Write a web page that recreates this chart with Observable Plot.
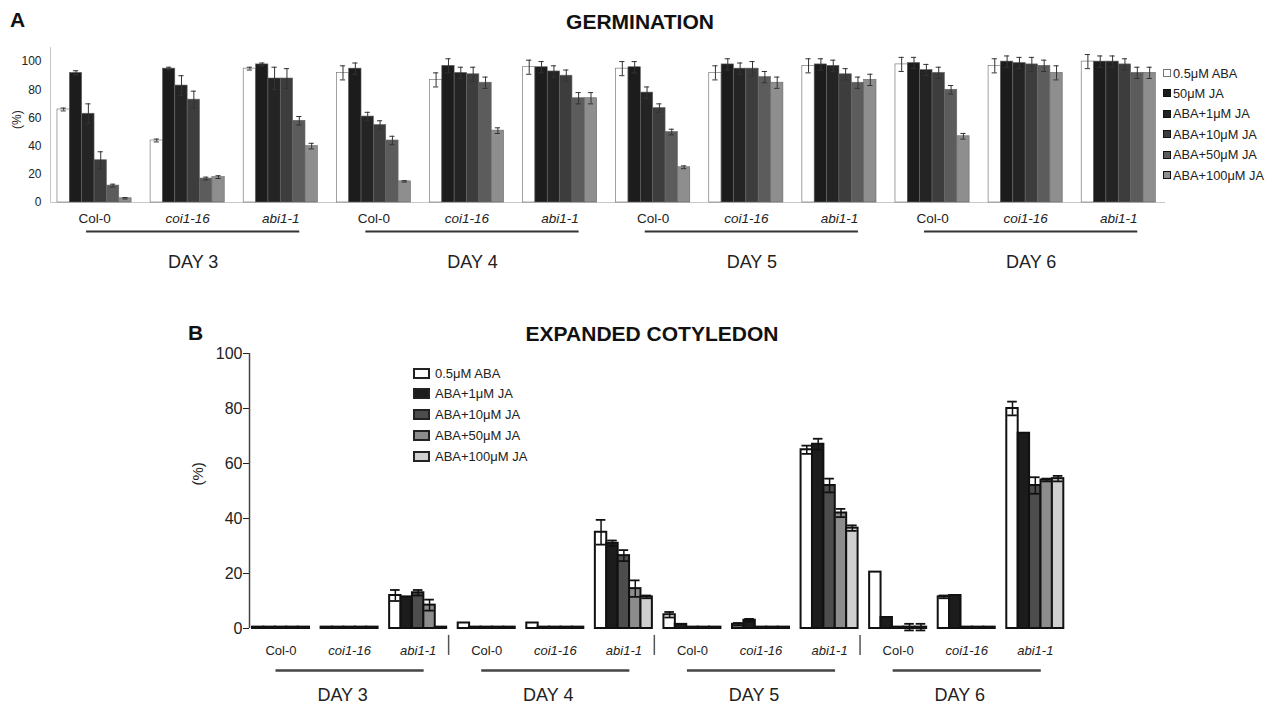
<!DOCTYPE html>
<html>
<head>
<meta charset="utf-8">
<script src="https://cdn.jsdelivr.net/npm/d3@7"></script>
<script src="https://cdn.jsdelivr.net/npm/@observablehq/plot@0.6"></script>
<style>
  body { margin: 0; background: #fff; }
  #wrap { position: relative; width: 1273px; height: 705px; font-family: Arial, "Liberation Sans", Helvetica, sans-serif; color: #222; overflow: hidden; }
  .abs { position: absolute; white-space: nowrap; line-height: 1; }
  .letter { font-weight: bold; font-size: 21px; color: #111; }
  .title { font-weight: bold; font-size: 21px; color: #111; transform: translateX(-50%); }
  .legrow { position: absolute; display: flex; align-items: center; white-space: nowrap; }
</style>
</head>
<body>
<div id="wrap">
  <div id="panelA" class="abs" style="left:0;top:0"></div>
  <div id="panelB" class="abs" style="left:0;top:300px"></div>
  <div class="abs letter" style="left:10px;top:9px">A</div>
  <div class="abs title" style="left:640px;top:10.5px">GERMINATION</div>
  <div class="abs letter" style="left:188px;top:322px">B</div>
  <div class="abs title" style="left:652px;top:323px">EXPANDED COTYLEDON</div>
  <div id="legA"></div>
  <div id="legB"></div>
</div>
<script>
const FONT = 'Arial, "Liberation Sans", Helvetica, sans-serif';

// ---------- shared categories ----------
const days = ["DAY 3", "DAY 4", "DAY 5", "DAY 6"];
const genotypes = ["Col-0", "coi1-16", "abi1-1"];

// ---------- Panel A: GERMINATION (%) ----------
const seriesA = ["0.5\u03BCM ABA", "50\u03BCM JA", "ABA+1\u03BCM JA", "ABA+10\u03BCM JA", "ABA+50\u03BCM JA", "ABA+100\u03BCM JA"];
const colorsA = ["#ffffff", "#1c1c1c", "#242424", "#3d3d3d", "#5c5c5c", "#8e8e8e"];
const yTicksA = [0, 20, 40, 60, 80, 100];
// rows: Col-0, coi1-16, abi1-1 ; columns follow seriesA
const germD3 = [[66, 92, 63, 30, 12, 3], [44, 95, 83, 73, 17, 18], [95, 98, 88, 88, 58, 40]];
const germD4 = [[92, 95, 61, 55, 44, 15], [87, 97, 92, 91, 85, 51], [96, 96, 93, 90, 74, 74]];
const germD5 = [[95, 96, 78, 67, 50, 25], [92, 98, 95, 95, 89, 85], [97, 98, 97, 91, 85, 87]];
const germD6 = [[98, 99, 94, 92, 80, 47], [97, 100, 99, 98, 97, 92], [100, 100, 100, 98, 92, 92]];
const germErrD3 = [[1, 1.5, 7, 6, 1, 0.5], [1, 1, 7, 6, 1, 1], [1, 1, 8, 7, 3, 2]];
const germErrD4 = [[5, 4, 3, 3, 3, 0.5], [5, 5, 4, 5, 4, 2], [5, 4, 4, 4, 4, 4]];
const germErrD5 = [[5, 4, 4, 3, 2, 1], [5, 4, 4, 5, 4, 4], [5, 4, 4, 4, 4, 4]];
const germErrD6 = [[5, 4, 4, 4, 3, 2], [5, 4, 4, 5, 4, 5], [5, 4, 4, 4, 4, 4]];

// ---------- Panel B: EXPANDED COTYLEDON (%) ----------
const seriesB = ["0.5\u03BCM ABA", "ABA+1\u03BCM JA", "ABA+10\u03BCM JA", "ABA+50\u03BCM JA", "ABA+100\u03BCM JA"];
const colorsB = ["#ffffff", "#1c1c1c", "#4d4d4d", "#8c8c8c", "#cfcfcf"];
const yTicksB = [0, 20, 40, 60, 80, 100];
const cotD3 = [[0.5, 0.5, 0.5, 0.5, 0.5], [0.5, 0.5, 0.5, 0.5, 0.5], [12, 11.5, 13, 8.5, 0.5]];
const cotD4 = [[2, 0.5, 0.5, 0.5, 0.5], [2, 0.5, 0.5, 0.5, 0.5], [35, 31, 26.5, 14.5, 11.5]];
const cotD5 = [[5, 1.5, 0.5, 0.5, 0.5], [1.5, 3, 0.5, 0.5, 0.5], [65, 67, 52, 42, 36.5]];
const cotD6 = [[20.5, 4, 0.5, 0.5, 0.5], [11.5, 12, 0.5, 0.5, 0.5], [80, 71, 52, 54, 54.5]];
const cotErrD3 = [[0, 0, 0, 0, 0], [0, 0, 0, 0, 0], [2, 0, 1, 2, 0]];
const cotErrD4 = [[0, 0, 0, 0, 0], [0, 0, 0, 0, 0], [4.5, 1, 2, 3, 0.5]];
const cotErrD5 = [[1, 0, 0, 0, 0], [0.5, 0.5, 0, 0, 0], [1.5, 2, 2.5, 1.5, 1]];
const cotErrD6 = [[0, 0, 0, 1.2, 1.2], [0.5, 0, 0, 0, 0], [2.5, 0, 3, 0.5, 1]];

// ---------- build tables ----------
function buildRows(meansByDay, errsByDay, series, bw) {
  const rows = [];
  meansByDay.forEach((dayMeans, d) => {
    dayMeans.forEach((vals, gi) => {
      const g = d * 3 + gi;
      vals.forEach((v, i) => {
        rows.push({g, i, s: series[i], v, e: errsByDay[d][gi][i],
          x1: g + i * bw, x2: g + (i + 1) * bw, xc: g + (i + 0.5) * bw});
      });
    });
  });
  return rows;
}
function buildGroups(nSeries, bw) {
  const out = [];
  days.forEach((day, d) => genotypes.forEach((name, gi) => {
    const g = d * 3 + gi;
    out.push({d, gi, name, xc: g + nSeries * bw / 2});
  }));
  return out;
}

// Panel A geometry (group index units)
const bwA = 0.1327, capA = 0.028;
const rowsA = buildRows([germD3, germD4, germD5, germD6], [germErrD3, germErrD4, germErrD5, germErrD6], seriesA, bwA);
const groupsA = buildGroups(6, bwA);
const dayRowsA = days.map((day, d) => {
  const c0 = groupsA[d * 3].xc, c2 = groupsA[d * 3 + 2].xc;
  const x1 = c0 - 8 / 93.1, x2 = c2 + 19 / 93.1;
  return {day, x1, x2, xc: (x1 + x2) / 2};
});

const plotA = Plot.plot({
  width: 1273, height: 280,
  marginLeft: 50, marginRight: 108, marginTop: 47, marginBottom: 78,
  style: {fontFamily: FONT, fontSize: "12px", color: "#222", background: "transparent", overflow: "visible"},
  x: {domain: [-0.075, 11.9], axis: null},
  y: {domain: [0, 110], ticks: yTicksA, tickSize: 0, tickPadding: 9, label: null},
  color: {domain: seriesA, range: colorsA},
  marks: [
    Plot.ruleX([-0.075], {y1: 0, y2: 110, stroke: "#c8c8c8"}),
    Plot.ruleY([0], {stroke: "#c8c8c8"}),
    Plot.rectY(rowsA, {x1: "x1", x2: "x2", y1: 0, y2: "v", fill: "s", stroke: "#666", strokeWidth: 0.6}),
    Plot.ruleX(rowsA, {x: "xc", y1: d => d.v - d.e, y2: d => d.v + d.e, stroke: "#333", strokeWidth: 1}),
    Plot.ruleY(rowsA, {y: d => d.v + d.e, x1: d => d.xc - capA, x2: d => d.xc + capA, stroke: "#333", strokeWidth: 1}),
    Plot.ruleY(rowsA, {y: d => d.v - d.e, x1: d => d.xc - capA, x2: d => d.xc + capA, stroke: "#333", strokeWidth: 1}),
    Plot.text(groupsA.filter(d => d.gi === 0), {x: "xc", y: 0, dy: 16, text: "name", fontSize: 13.5, fill: "#222"}),
    Plot.text(groupsA.filter(d => d.gi > 0), {x: "xc", y: 0, dy: 16, text: "name", fontSize: 13.5, fontStyle: "italic", fill: "#222"}),
    Plot.ruleY(dayRowsA, {y: 0, x1: "x1", x2: "x2", dy: 29, stroke: "#333", strokeWidth: 2}),
    Plot.text(dayRowsA, {x: "xc", y: 0, dy: 60, text: "day", fontSize: 18, fill: "#222"}),
    Plot.text(["(%)"], {frameAnchor: "left", dx: -33, dy: 4, rotate: -90, text: d => d, fontSize: 12, fill: "#222"})
  ]
});
document.getElementById("panelA").append(plotA);

// Panel B geometry
const bwB = 0.1663, capB = 0.07, stepB = 68.55;
const rowsB = buildRows([cotD3, cotD4, cotD5, cotD6], [cotErrD3, cotErrD4, cotErrD5, cotErrD6], seriesB, bwB);
const groupsB = buildGroups(5, bwB);
const dayRowsB = days.map((day, d) => {
  const c0 = groupsB[d * 3].xc, c1 = groupsB[d * 3 + 1].xc, c2 = groupsB[d * 3 + 2].xc;
  return {day, x1: c0 - 5 / stepB, x2: c2 + 6 / stepB, xc: c1 - 7 / stepB};
});
const sepB = [1, 2, 3].map(d => ({x: d * 3 - 0.14}));
const errB = rowsB.filter(d => d.e > 0);

const plotB = Plot.plot({
  width: 1273, height: 405,
  marginLeft: 249, marginRight: 205, marginTop: 53, marginBottom: 77,
  style: {fontFamily: FONT, fontSize: "16px", color: "#222", background: "transparent", overflow: "visible"},
  x: {domain: [-0.0438, 11.9], axis: null},
  y: {domain: [0, 100], ticks: yTicksB, tickSize: 6, tickPadding: 1, label: null},
  color: {domain: seriesB, range: colorsB},
  marks: [
    Plot.ruleX([-0.0438], {y1: 0, y2: 100, stroke: "#444", strokeWidth: 1.5}),
    Plot.rectY(rowsB, {x1: "x1", x2: "x2", y1: 0, y2: "v", fill: "s", stroke: "#111", strokeWidth: 2}),
    Plot.ruleX(errB, {x: "xc", y1: d => d.v - d.e, y2: d => d.v + d.e, stroke: "#111", strokeWidth: 1.5}),
    Plot.ruleY(errB, {y: d => d.v + d.e, x1: d => d.xc - capB, x2: d => d.xc + capB, stroke: "#111", strokeWidth: 1.8}),
    Plot.ruleY(errB, {y: d => d.v - d.e, x1: d => d.xc - capB, x2: d => d.xc + capB, stroke: "#111", strokeWidth: 1.8}),
    Plot.ruleX(sepB, {x: "x", y1: -2.5, y2: -9.8, stroke: "#555", strokeWidth: 1.5}),
    Plot.text(groupsB.filter(d => d.gi === 0), {x: "xc", y: 0, dy: 22, text: "name", fontSize: 13, fill: "#222"}),
    Plot.text(groupsB.filter(d => d.gi > 0), {x: "xc", y: 0, dy: 22, text: "name", fontSize: 13, fontStyle: "italic", fill: "#222"}),
    Plot.ruleY(dayRowsB, {y: 0, x1: "x1", x2: "x2", dy: 42, stroke: "#444", strokeWidth: 2.5}),
    Plot.text(dayRowsB, {x: "xc", y: 0, dy: 67, text: "day", fontSize: 18, fill: "#222"}),
    Plot.text(["(%)"], {frameAnchor: "left", dx: -51, dy: -5.5, rotate: -90, text: d => d, fontSize: 15, fill: "#222"})
  ]
});
document.getElementById("panelB").append(plotB);

// ---------- legends ----------
function legend(containerId, series, colors, opts) {
  const el = document.getElementById(containerId);
  series.forEach((s, i) => {
    const row = document.createElement("div");
    row.className = "legrow";
    row.style.left = opts.left + "px";
    row.style.top = (opts.top + i * opts.step - opts.rowH / 2) + "px";
    row.style.height = opts.rowH + "px";
    row.style.fontSize = opts.fontSize + "px";
    const sw = document.createElement("span");
    sw.style.display = "inline-block";
    sw.style.boxSizing = "border-box";
    sw.style.width = opts.sw + "px";
    sw.style.height = opts.sh + "px";
    sw.style.background = colors[i];
    sw.style.border = opts.border(i);
    sw.style.marginRight = opts.gap + "px";
    const tx = document.createElement("span");
    tx.textContent = s;
    row.append(sw, tx);
    el.append(row);
  });
}
legend("legA", seriesA, colorsA, {left: 1163, top: 73, step: 20.4, rowH: 16, fontSize: 12.8, sw: 8, sh: 8, gap: 2,
  border: i => i === 0 ? "1px solid #777" : "1px solid #111"});
legend("legB", seriesB, colorsB, {left: 413, top: 373, step: 20.8, rowH: 16, fontSize: 13, sw: 17, sh: 11, gap: 5,
  border: i => "2px solid #222"});
</script>
</body>
</html>
